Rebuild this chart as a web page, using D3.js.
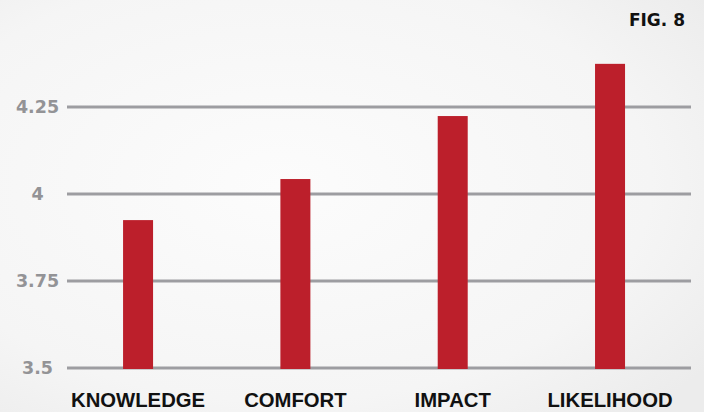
<!DOCTYPE html>
<html>
<head>
<meta charset="utf-8">
<script src="https://cdn.jsdelivr.net/npm/d3@7"></script>
<style>
  html, body { margin: 0; padding: 0; background: #f4f4f4; }
  svg { display: block; }
</style>
</head>
<body>
<svg id="chart" width="704" height="412"></svg>
<script>
const categories = ["KNOWLEDGE", "COMFORT", "IMPACT", "LIKELIHOOD"];
const values = [3.925, 4.043, 4.224, 4.374];
const yTicks = [3.5, 3.75, 4, 4.25];
const yTickLabels = ["3.5", "3.75", "4", "4.25"];
const figLabel = "FIG. 8";

const W = 704, H = 412;
const svg = d3.select("#chart");

// background paper texture (soft gradient)
const defs = svg.append("defs");
const rg = defs.append("radialGradient").attr("id", "paper")
  .attr("cx", "40%").attr("cy", "45%").attr("r", "75%");
rg.append("stop").attr("offset", "0%").attr("stop-color", "#fcfcfc");
rg.append("stop").attr("offset", "70%").attr("stop-color", "#f5f5f5");
rg.append("stop").attr("offset", "100%").attr("stop-color", "#ececec");
svg.append("rect").attr("width", W).attr("height", H).attr("fill", "url(#paper)");

const x = d3.scalePoint().domain(categories).range([59.4, 688.7]).padding(0.5);
const y = d3.scaleLinear().domain([3.5, 4.25]).range([368, 107]);
const barW = 30;

// gridlines
svg.append("g").selectAll("line").data(yTicks).join("line")
  .attr("x1", 67).attr("x2", 691)
  .attr("y1", d => y(d)).attr("y2", d => y(d))
  .attr("stroke", "#9d9da1").attr("stroke-width", 3);

// y tick labels
svg.append("g").selectAll("text").data(yTicks).join("text")
  .attr("x", 37.5).attr("y", d => y(d))
  .attr("dy", "0.36em")
  .attr("text-anchor", "middle")
  .attr("font-family", "DejaVu Sans")
  .attr("font-weight", "bold")
  .attr("font-size", 17.5)
  .attr("fill", "#939396")
  .text((d, i) => yTickLabels[i]);

// bars
svg.append("g").selectAll("rect").data(values).join("rect")
  .attr("x", (d, i) => x(categories[i]) - barW / 2)
  .attr("width", barW)
  .attr("y", d => y(d))
  .attr("height", d => y(3.5) - y(d) + 1)
  .attr("fill", "#bc1f2b");

// category labels
svg.append("g").selectAll("text").data(categories).join("text")
  .attr("x", d => x(d)).attr("y", 407)
  .attr("text-anchor", "middle")
  .attr("font-family", "Liberation Sans, Arial, sans-serif")
  .attr("font-weight", "bold")
  .attr("font-size", 20.3)
  .attr("fill", "#111")
  .text(d => d);

// figure label
svg.append("text")
  .attr("x", 685).attr("y", 25.5)
  .attr("text-anchor", "end")
  .attr("font-family", "DejaVu Sans")
  .attr("font-weight", "bold")
  .attr("font-size", 17)
  .attr("fill", "#111")
  .text(figLabel);
</script>
</body>
</html>
